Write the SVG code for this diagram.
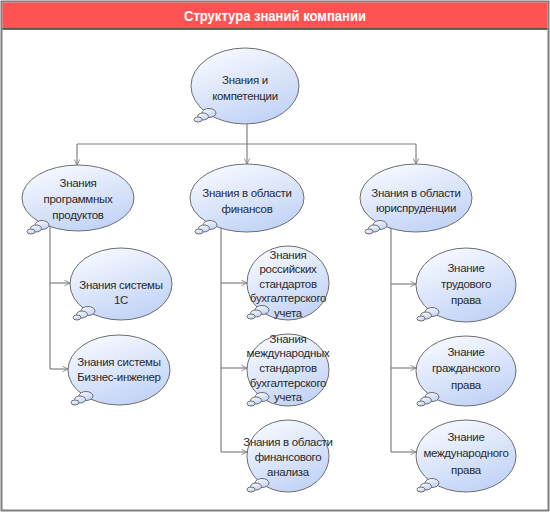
<svg xmlns="http://www.w3.org/2000/svg" width="550" height="512" viewBox="0 0 550 512">
<defs>
<linearGradient id="g" x1="0.2" y1="0" x2="0.7" y2="1">
<stop offset="0" stop-color="#F8FAFF"/>
<stop offset="1" stop-color="#C0D2F6"/>
</linearGradient>
<marker id="arr" viewBox="0 0 10 10" refX="9" refY="5" markerWidth="7" markerHeight="7" orient="auto" markerUnits="userSpaceOnUse">
<path d="M1,1 L9,5 L1,9" fill="none" stroke="#808080" stroke-width="1.2"/>
</marker>
<g id="bub">
<ellipse cx="0" cy="0" rx="7" ry="4.5"/>
<ellipse cx="-6" cy="3.5" rx="5.5" ry="3.5"/>
<ellipse cx="-11" cy="6.5" rx="4" ry="2.5"/>
</g>
</defs>
<style>
.n ellipse{fill:url(#g);stroke:#6E6E6E;stroke-width:1}
.n use{fill:url(#g);stroke:#6E6E6E;stroke-width:1}
.n text{font-family:"Liberation Sans",Arial,sans-serif;font-size:11.5px;letter-spacing:-0.3px;fill:#2A2A2A;text-anchor:middle}
.c line,.c path{stroke:#808080;stroke-width:1.2;fill:none}
.a{marker-end:url(#arr)}
</style>
<rect x="1.5" y="1.5" width="547" height="509" fill="#FFFFFF" stroke="#7F7F7F" stroke-width="2"/>
<g id="title">
<rect x="2.5" y="2.5" width="545" height="26" fill="#FF5252"/>
<line x1="2.5" y1="29" x2="547.5" y2="29" stroke="#333" stroke-width="1.5"/>
<text x="275" y="21" font-family="Liberation Sans,Arial,sans-serif" font-size="14" font-weight="bold" fill="#FFFFFF" text-anchor="middle" textLength="182" lengthAdjust="spacingAndGlyphs">Структура знаний компании</text>
</g>
<g class="c" id="connectors">
<line x1="247" y1="124" x2="247" y2="144"/>
<line x1="77" y1="144" x2="416" y2="144"/>
<line class="a" x1="77" y1="144" x2="77" y2="165"/>
<line class="a" x1="247" y1="144" x2="247" y2="164"/>
<line class="a" x1="416" y1="144" x2="416" y2="164"/>
<line x1="50" y1="227" x2="50" y2="369"/>
<line class="a" x1="50" y1="283" x2="70" y2="283"/>
<line class="a" x1="50" y1="369" x2="68" y2="369"/>
<line x1="221" y1="228" x2="221" y2="452"/>
<line class="a" x1="221" y1="283" x2="247" y2="283"/>
<line class="a" x1="221" y1="368" x2="247" y2="368"/>
<line class="a" x1="221" y1="452" x2="247" y2="452"/>
<line x1="391" y1="228" x2="391" y2="452"/>
<line class="a" x1="391" y1="284" x2="416" y2="284"/>
<line class="a" x1="391" y1="368" x2="416" y2="368"/>
<line class="a" x1="391" y1="452" x2="416" y2="452"/>
</g>
<g class="n" id="root">
<ellipse cx="245" cy="86" rx="54" ry="38"/>
<use href="#bub" x="209" y="113"/>
<text x="245" y="84">Знания и</text>
<text x="245" y="100">компетенции</text>
</g>
<g class="n" id="soft">
<ellipse cx="78" cy="198" rx="56" ry="33"/>
<use href="#bub" x="42" y="225"/>
<text x="78" y="187">Знания</text>
<text x="78" y="203">программных</text>
<text x="78" y="219">продуктов</text>
</g>
<g class="n" id="fin">
<ellipse cx="247" cy="198" rx="57" ry="34"/>
<use href="#bub" x="210" y="225"/>
<text x="247" y="197">Знания в области</text>
<text x="247" y="213">финансов</text>
</g>
<g class="n" id="law">
<ellipse cx="416" cy="198" rx="56" ry="34"/>
<use href="#bub" x="380" y="225"/>
<text x="416" y="197">Знания в области</text>
<text x="416" y="212">юриспруденции</text>
</g>
<g class="n" id="sys1c">
<ellipse cx="121" cy="284" rx="51" ry="36"/>
<use href="#bub" x="88" y="311"/>
<text x="121" y="289">Знания системы</text>
<text x="121" y="304">1С</text>
</g>
<g class="n" id="bizeng">
<ellipse cx="119" cy="370" rx="51" ry="35"/>
<use href="#bub" x="86" y="396"/>
<text x="119" y="366">Знания системы</text>
<text x="119" y="381">Бизнес-инженер</text>
</g>
<g class="n" id="rsbu">
<ellipse cx="288" cy="283" rx="41" ry="37"/>
<use href="#bub" x="262" y="310"/>
<text x="288" y="259">Знания</text>
<text x="288" y="273">российских</text>
<text x="288" y="288">стандартов</text>
<text x="288" y="302">бухгалтерского</text>
<text x="288" y="317">учета</text>
</g>
<g class="n" id="msfo">
<ellipse cx="288" cy="370" rx="41" ry="36"/>
<use href="#bub" x="262" y="397"/>
<text x="288" y="343">Знания</text>
<text x="288" y="357">международных</text>
<text x="288" y="372">стандартов</text>
<text x="288" y="387">бухгалтерского</text>
<text x="288" y="401">учета</text>
</g>
<g class="n" id="finan">
<ellipse cx="288" cy="456" rx="41" ry="36"/>
<use href="#bub" x="262" y="483"/>
<text x="288" y="446">Знания в области</text>
<text x="288" y="461">финансового</text>
<text x="288" y="476">анализа</text>
</g>
<g class="n" id="labor">
<ellipse cx="466" cy="285" rx="50" ry="37"/>
<use href="#bub" x="432" y="312"/>
<text x="466" y="272">Знание</text>
<text x="466" y="288">трудового</text>
<text x="466" y="304">права</text>
</g>
<g class="n" id="civil">
<ellipse cx="466" cy="371" rx="50" ry="35"/>
<use href="#bub" x="432" y="397"/>
<text x="466" y="356">Знание</text>
<text x="466" y="372">гражданского</text>
<text x="466" y="389">права</text>
</g>
<g class="n" id="intl">
<ellipse cx="466" cy="456" rx="50" ry="36"/>
<use href="#bub" x="432" y="483"/>
<text x="466" y="441">Знание</text>
<text x="466" y="457">международного</text>
<text x="466" y="474">права</text>
</g>
</svg>
